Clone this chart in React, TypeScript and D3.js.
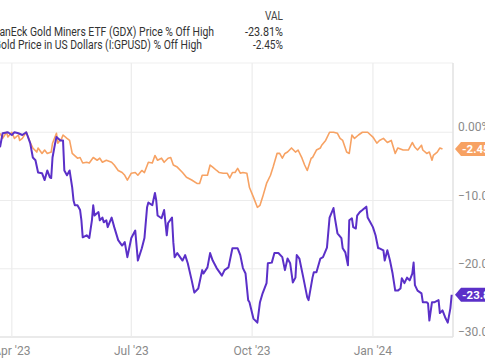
import React, { useEffect, useRef } from 'react';
import * as d3 from 'd3';

// GDX price % off high
const gdxDates = [
  '2023-03-23', '2023-03-25', '2023-03-29', '2023-04-01', '2023-04-03', '2023-04-06', '2023-04-09', '2023-04-12',
  '2023-04-15', '2023-04-17', '2023-04-19', '2023-04-21', '2023-04-24', '2023-04-26', '2023-04-28', '2023-04-30',
  '2023-05-01', '2023-05-02', '2023-05-04', '2023-05-05', '2023-05-08', '2023-05-10', '2023-05-11', '2023-05-13',
  '2023-05-15', '2023-05-17', '2023-05-18', '2023-05-19', '2023-05-21', '2023-05-23', '2023-05-24', '2023-05-25',
  '2023-05-28', '2023-05-30', '2023-06-01', '2023-06-02', '2023-06-03', '2023-06-06', '2023-06-07', '2023-06-09',
  '2023-06-10', '2023-06-12', '2023-06-13', '2023-06-16', '2023-06-18', '2023-06-21', '2023-06-24', '2023-06-26',
  '2023-06-28', '2023-07-01', '2023-07-04', '2023-07-06', '2023-07-09', '2023-07-11', '2023-07-13', '2023-07-14',
  '2023-07-17', '2023-07-19', '2023-07-20', '2023-07-21', '2023-07-24', '2023-07-26', '2023-07-28', '2023-07-29',
  '2023-08-01', '2023-08-02', '2023-08-03', '2023-08-05', '2023-08-09', '2023-08-11', '2023-08-13', '2023-08-16',
  '2023-08-18', '2023-08-21', '2023-08-24', '2023-08-25', '2023-08-28', '2023-08-30', '2023-09-01', '2023-09-04',
  '2023-09-08', '2023-09-10', '2023-09-13', '2023-09-16', '2023-09-18', '2023-09-20', '2023-09-22', '2023-09-24',
  '2023-09-26', '2023-09-28', '2023-09-29', '2023-10-02', '2023-10-05', '2023-10-07', '2023-10-09', '2023-10-12',
  '2023-10-13', '2023-10-16', '2023-10-18', '2023-10-21', '2023-10-24', '2023-10-26', '2023-10-28', '2023-10-30',
  '2023-11-01', '2023-11-03', '2023-11-04', '2023-11-06', '2023-11-09', '2023-11-12', '2023-11-13', '2023-11-16',
  '2023-11-17', '2023-11-19', '2023-11-22', '2023-11-24', '2023-11-27', '2023-11-29', '2023-12-02', '2023-12-03',
  '2023-12-05', '2023-12-08', '2023-12-09', '2023-12-11', '2023-12-13', '2023-12-14', '2023-12-16', '2023-12-17',
  '2023-12-19', '2023-12-20', '2023-12-22', '2023-12-24', '2023-12-27', '2023-12-28', '2023-12-30', '2024-01-01',
  '2024-01-03', '2024-01-05', '2024-01-06', '2024-01-09', '2024-01-10', '2024-01-12', '2024-01-14', '2024-01-16',
  '2024-01-18', '2024-01-20', '2024-01-22', '2024-01-23', '2024-01-25', '2024-01-27', '2024-01-29', '2024-01-31',
  '2024-02-01', '2024-02-02', '2024-02-04', '2024-02-07', '2024-02-08', '2024-02-11', '2024-02-12', '2024-02-13',
  '2024-02-15', '2024-02-17', '2024-02-20', '2024-02-21', '2024-02-23', '2024-02-25', '2024-02-27', '2024-02-29',
  '2024-03-01',
];
const gdxValues = [
  -2.2, -0.15, 0, -0.4, 0, -0.15, -0.4, 0,
  -1.6, -3.7, -4.1, -5.9, -6.0, -7.0, -5.6, -6.6,
  -6.7, -3.7, -1.6, -0.7, -1.2, -1.2, -5.6, -6.3,
  -5.6, -8.1, -10.0, -10.7, -10.7, -11.4, -12.9, -15.4,
  -15.1, -15.5, -12.9, -10.7, -12.2, -11.7, -12.9, -12.5,
  -13.2, -12.9, -13.9, -12.5, -13.9, -15.8, -16.6, -16.1,
  -18.3, -15.5, -14.4, -18.8, -17.0, -15.5, -11.0, -10.3,
  -10.7, -8.9, -10.0, -12.2, -12.6, -11.4, -15.1, -13.3,
  -12.5, -16.1, -18.3, -17.7, -18.8, -18.0, -19.2, -21.7,
  -23.5, -22.9, -20.2, -20.7, -19.8, -17.7, -18.8, -19.9,
  -21.0, -20.2, -19.8, -17.0, -17.0, -17.0, -18.0, -19.9,
  -20.7, -24.6, -24.9, -27.3, -27.9, -24.9, -23.6, -22.1,
  -19.2, -19.1, -17.7, -17.7, -18.3, -20.2, -18.5, -19.2,
  -22.0, -21.3, -18.0, -18.5, -21.3, -24.2, -24.6, -21.3,
  -20.5, -20.5, -18.5, -18.3, -16.9, -12.5, -11.1, -12.5,
  -14.8, -15.5, -17.0, -17.6, -19.5, -12.9, -12.6, -13.9,
  -14.1, -12.2, -11.7, -11.4, -10.9, -12.5, -13.2, -13.9,
  -15.1, -17.0, -17.0, -17.3, -18.8, -17.3, -18.8, -20.7,
  -23.2, -23.2, -22.9, -21.4, -22.1, -21.3, -21.7, -20.7,
  -19.1, -22.4, -23.2, -23.6, -24.9, -24.9, -25.1, -27.6,
  -24.9, -24.9, -24.6, -26.5, -26.1, -27.1, -27.9, -25.8,
  -23.81,
];

// Gold price % off high
const goldDates = [
  '2023-03-23', '2023-03-25', '2023-03-28', '2023-03-29', '2023-04-01', '2023-04-03', '2023-04-06', '2023-04-07',
  '2023-04-09', '2023-04-12', '2023-04-15', '2023-04-17', '2023-04-20', '2023-04-21', '2023-04-24', '2023-04-26',
  '2023-04-28', '2023-05-01', '2023-05-02', '2023-05-05', '2023-05-06', '2023-05-09', '2023-05-10', '2023-05-13',
  '2023-05-15', '2023-05-17', '2023-05-21', '2023-05-23', '2023-05-25', '2023-05-28', '2023-05-30', '2023-06-02',
  '2023-06-05', '2023-06-07', '2023-06-09', '2023-06-12', '2023-06-16', '2023-06-18', '2023-06-21', '2023-06-24',
  '2023-06-26', '2023-06-28', '2023-07-01', '2023-07-04', '2023-07-06', '2023-07-09', '2023-07-11', '2023-07-14',
  '2023-07-17', '2023-07-19', '2023-07-21', '2023-07-24', '2023-07-26', '2023-07-29', '2023-07-31', '2023-08-02',
  '2023-08-05', '2023-08-09', '2023-08-12', '2023-08-16', '2023-08-20', '2023-08-22', '2023-08-24', '2023-08-28',
  '2023-08-30', '2023-09-01', '2023-09-04', '2023-09-06', '2023-09-09', '2023-09-12', '2023-09-14', '2023-09-16',
  '2023-09-18', '2023-09-20', '2023-09-22', '2023-09-24', '2023-09-27', '2023-09-29', '2023-10-02', '2023-10-05',
  '2023-10-07', '2023-10-09', '2023-10-12', '2023-10-15', '2023-10-17', '2023-10-20', '2023-10-22', '2023-10-24',
  '2023-10-26', '2023-10-28', '2023-10-31', '2023-11-03', '2023-11-05', '2023-11-08', '2023-11-10', '2023-11-12',
  '2023-11-15', '2023-11-16', '2023-11-19', '2023-11-22', '2023-11-23', '2023-11-26', '2023-11-29', '2023-12-02',
  '2023-12-05', '2023-12-07', '2023-12-09', '2023-12-12', '2023-12-14', '2023-12-16', '2023-12-18', '2023-12-21',
  '2023-12-24', '2023-12-28', '2024-01-01', '2024-01-04', '2024-01-06', '2024-01-09', '2024-01-12', '2024-01-15',
  '2024-01-18', '2024-01-20', '2024-01-24', '2024-01-28', '2024-01-31', '2024-02-02', '2024-02-04', '2024-02-07',
  '2024-02-08', '2024-02-11', '2024-02-13', '2024-02-15', '2024-02-16', '2024-02-19', '2024-02-21', '2024-02-23',
];
const goldValues = [
  -0.15, -0.9, 0, -0.7, 0, -0.9, -0.4, -1.2,
  -0.9, 0, -1.5, -2.3, -2.9, -2.3, -3.1, -2.6,
  -3.1, -2.9, -1.6, -0.15, -1.6, -0.9, -0.4, -0.9,
  -1.2, -3.1, -3.8, -3.7, -4.5, -4.4, -4.5, -3.7,
  -4.1, -3.8, -4.4, -4.1, -4.4, -4.8, -5.6, -5.9,
  -6.3, -7.0, -6.0, -5.9, -6.3, -5.6, -5.9, -4.4,
  -4.5, -3.4, -4.1, -3.8, -4.4, -3.8, -3.7, -4.8,
  -5.1, -5.9, -6.6, -7.0, -7.5, -7.5, -6.3, -6.3,
  -4.8, -5.1, -5.6, -5.9, -6.0, -6.0, -6.7, -5.9,
  -5.9, -5.3, -6.0, -5.9, -6.0, -8.1, -9.5, -11.0,
  -10.7, -9.5, -7.5, -6.3, -5.1, -3.1, -3.1, -3.8,
  -3.1, -2.9, -2.3, -2.9, -2.6, -3.8, -4.8, -5.6,
  -3.8, -3.7, -2.6, -2.3, -1.9, -1.2, 0, 0,
  -0.15, -0.9, -1.2, -2.9, -3.1, -0.4, -0.9, -0.4,
  0, 0, -0.7, -1.6, -1.2, -0.9, -1.5, -1.2,
  -3.1, -2.3, -2.6, -2.6, -1.5, -2.2, -2.6, -1.9,
  -2.6, -3.1, -2.9, -4.1, -3.4, -2.9, -2.3, -2.45,
];

const seriesNames = [
  'VanEck Gold Miners ETF (GDX) Price % Off High',
  'Gold Price in US Dollars (I:GPUSD) % Off High',
];
const seriesLast = ['-23.81%', '-2.45%'];
const seriesColors = ['#5b30c8', '#f7a263'];
const yTicks = [0, -10, -20, -30];
const xTicks = ['2023-04-01', '2023-07-01', '2023-10-01', '2024-01-01'];

const App: React.FC = () => {
  const svgRef = useRef<SVGSVGElement>(null);

  useEffect(() => {
    if (!svgRef.current) return;
    const width = 485;
    const plot = { left: 0, right: 453, top: 63, bottom: 337 };
    const font = 'Roboto, sans-serif';

    const svg = d3.select(svgRef.current);
    svg.selectAll('*').remove();

    const parse = d3.utcParse('%Y-%m-%d');
    const x = d3.scaleUtc()
      .domain([parse('2023-03-23')!, parse('2024-03-02')!])
      .range([plot.left, plot.right]);
    const y = d3.scaleLinear().domain([-30, 10.15]).range([plot.bottom, plot.top]);

    // legend (text squeezed to the widths seen in the source image)
    const nameWidths = [221, 208];
    const nameStarts = [-7, -6];
    const valWidths = [38, 30];
    svg.append('text').attr('x', 283).attr('y', 20).attr('text-anchor', 'end')
      .attr('font-family', font).attr('font-size', 12).attr('fill', '#444')
      .attr('textLength', 18).attr('lengthAdjust', 'spacingAndGlyphs').text('VAL');
    seriesNames.forEach((name, i) => {
      const yy = 36 + i * 12.8;
      svg.append('text').attr('x', nameStarts[i]).attr('y', yy)
        .attr('font-family', font).attr('font-size', 12.5).attr('fill', '#333')
        .attr('textLength', nameWidths[i]).attr('lengthAdjust', 'spacingAndGlyphs')
        .text(name);
      svg.append('text').attr('x', 283 - valWidths[i]).attr('y', yy)
        .attr('font-family', font).attr('font-size', 12).attr('fill', '#333')
        .attr('textLength', valWidths[i]).attr('lengthAdjust', 'spacingAndGlyphs')
        .text(seriesLast[i]);
    });

    // grid
    const g = svg.append('g');
    g.selectAll('.hg').data(yTicks).enter().append('line')
      .attr('x1', plot.left).attr('x2', plot.right)
      .attr('y1', d => y(d)).attr('y2', d => y(d))
      .attr('stroke', d => (d === -30 ? '#d6d6d6' : '#ececec')).attr('stroke-width', 1.2);
    g.append('line').attr('x1', plot.left).attr('x2', plot.right)
      .attr('y1', plot.top).attr('y2', plot.top).attr('stroke', '#efefef');
    g.selectAll('.vg').data(xTicks).enter().append('line')
      .attr('x1', d => x(parse(d)!)).attr('x2', d => x(parse(d)!))
      .attr('y1', plot.top).attr('y2', plot.bottom)
      .attr('stroke', '#ececec').attr('stroke-width', 1.2);
    g.append('line').attr('x1', plot.right).attr('x2', plot.right)
      .attr('y1', plot.top).attr('y2', plot.bottom)
      .attr('stroke', '#e2e2e2').attr('stroke-width', 1.5);

    // axis labels
    g.selectAll('.yl').data(yTicks).enter().append('text')
      .attr('x', 458).attr('y', d => y(d) - 1)
      .attr('font-family', font).attr('font-size', 12).attr('fill', '#8a8a8a')
      .text(d => `${d3.format('.2f')(d)}%`);
    const fmt = d3.utcFormat("%b '%y");
    g.selectAll('.xl').data(xTicks).enter().append('text')
      .attr('x', d => x(parse(d)!)).attr('y', 355).attr('text-anchor', 'middle')
      .attr('font-family', font).attr('font-size', 12).attr('fill', '#8a8a8a')
      .text(d => fmt(parse(d)!));

    // lines
    const line = d3.line<[Date, number]>()
      .x(d => x(d[0]))
      .y(d => y(d[1]));
    const gold = goldDates.map((d, i) => [parse(d)!, goldValues[i]] as [Date, number]);
    const gdx = gdxDates.map((d, i) => [parse(d)!, gdxValues[i]] as [Date, number]);
    [gold, gdx].forEach((data, i) => {
      const c = i === 0 ? seriesColors[1] : seriesColors[0];
      svg.append('path').datum(data)
        .attr('d', line)
        .attr('fill', 'none')
        .attr('stroke', c)
        .attr('stroke-width', i === 0 ? 1.6 : 2)
        .attr('stroke-linejoin', 'round');
    });

    // last value badges
    [0, 1].forEach(i => {
      const v = i === 0 ? gdxValues[gdxValues.length - 1] : goldValues[goldValues.length - 1];
      const cy = y(v);
      const bx = 455;
      const b = svg.append('g');
      b.append('path')
        .attr('d', `M${bx},${cy} L${bx + 6},${cy - 7} L${width + 5},${cy - 7} L${width + 5},${cy + 7} L${bx + 6},${cy + 7} Z`)
        .attr('fill', seriesColors[i]);
      b.append('text').attr('x', bx + 7).attr('y', cy + 4)
        .attr('font-family', font).attr('font-size', 11.5).attr('font-weight', 'bold')
        .attr('fill', '#fff').text(seriesLast[i].replace('%', ''));
    });
  }, []);

  return (
    <svg
      ref={svgRef}
      width={485}
      height={360}
      style={{ position: 'absolute', left: 0, top: 0, background: '#fff' }}
    />
  );
};

export default App;
